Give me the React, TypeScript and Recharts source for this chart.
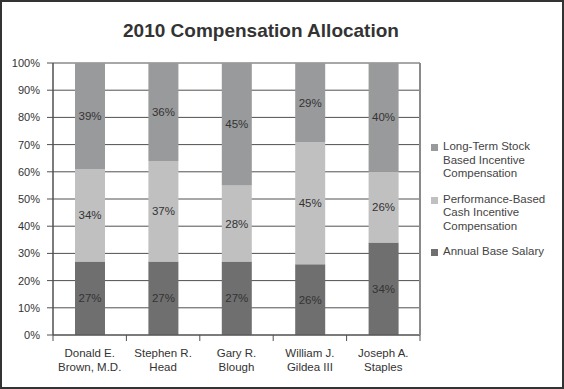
import React from 'react';
import { BarChart, Bar, XAxis, YAxis, CartesianGrid, LabelList } from 'recharts';

const names = [
  ['Donald E.', 'Brown, M.D.'],
  ['Stephen R.', 'Head'],
  ['Gary R.', 'Blough'],
  ['William J.', 'Gildea III'],
  ['Joseph A.', 'Staples'],
];
const baseSalary = [27, 27, 27, 26, 34];
const cashIncentive = [34, 37, 28, 45, 26];
const stockIncentive = [39, 36, 45, 29, 40];
const yTicks = [0, 10, 20, 30, 40, 50, 60, 70, 80, 90, 100];

const data = names.map((n, i) => ({
  name: n.join('\n'),
  base: baseSalary[i],
  cash: cashIncentive[i],
  stock: stockIncentive[i],
}));

const series = [
  { key: 'stock', color: '#999a9c', label: ['Long-Term Stock', 'Based Incentive', 'Compensation'] },
  { key: 'cash', color: '#c0c0c1', label: ['Performance-Based', 'Cash Incentive', 'Compensation'] },
  { key: 'base', color: '#6f6f70', label: ['Annual Base Salary'] },
];

const font = '"Liberation Sans", Arial, sans-serif';

// category label plus tick marks on the band edges
const NameTick = (props: any) => {
  const { x, y, payload, index, width, visibleTicksCount } = props;
  const half = width / visibleTicksCount / 2;
  const lines = String(payload.value).split('\n');
  return (
    <g>
      <line x1={x - half} x2={x - half} y1={y} y2={y + 6} stroke="#505050" />
      {index === visibleTicksCount - 1 && (
        <line x1={x + half} x2={x + half} y1={y} y2={y + 6} stroke="#505050" />
      )}
      <text x={x} y={y} textAnchor="middle" fill="#333" fontSize={11.5} fontFamily={font}>
        {lines.map((l, i) => (
          <tspan key={i} x={x} dy={i === 0 ? 22 : 14}>{l}</tspan>
        ))}
      </text>
    </g>
  );
};

export default function App() {
  return (
    <div style={{ position: 'absolute', left: 0, top: 0, width: 564, height: 389, background: '#fff', fontFamily: font }}>
      <BarChart
        width={564}
        height={389}
        data={data}
        margin={{ top: 63, right: 143, bottom: 14, left: 0 }}
        style={{ position: 'absolute', left: 0, top: 0 }}
      >
        <CartesianGrid vertical={false} stroke="#505050" strokeWidth={1} />
        <XAxis
          dataKey="name"
          tick={<NameTick />}
          tickSize={0}
          tickMargin={0}
          tickLine={false}
          axisLine={{ stroke: '#505050' }}
          height={40}
          interval={0}
        />
        <YAxis
          domain={[0, 100]}
          ticks={yTicks}
          tickFormatter={(v) => v + '%'}
          width={53}
          tickSize={6}
          tickMargin={7}
          tick={{ fill: '#333', fontSize: 11, fontFamily: font }}
          tickLine={{ stroke: '#505050' }}
          axisLine={{ stroke: '#505050', strokeWidth: 1.5 }}
          interval={0}
        />
        <YAxis
          yAxisId="right"
          orientation="right"
          width={1}
          tick={false}
          tickLine={false}
          axisLine={{ stroke: '#8a8a8a', strokeWidth: 2 }}
        />
        {['base', 'cash', 'stock'].map((k) => {
          const s = series.find((x) => x.key === k)!;
          return (
            <Bar key={k} dataKey={k} stackId="a" fill={s.color} barSize={30} isAnimationActive={false}>
              <LabelList
                dataKey={k}
                position="center"
                formatter={(v: any) => v + '%'}
                style={{ fill: '#333', fontSize: 11.5, fontFamily: font }}
              />
            </Bar>
          );
        })}
      </BarChart>
      <div
        style={{
          position: 'absolute',
          left: 0,
          top: 18,
          width: 522,
          textAlign: 'center',
          fontSize: 19,
          fontWeight: 'bold',
          color: '#333',
          lineHeight: '26px',
        }}
      >
        2010 Compensation Allocation
      </div>
      <div style={{ position: 'absolute', left: 431, top: 140, fontSize: 11.5, color: '#444', lineHeight: '13.5px' }}>
        {series.map((s) => (
          <div key={s.key} style={{ display: 'flex', marginBottom: 12 }}>
            <div style={{ width: 7, height: 7, background: s.color, marginTop: 4, marginRight: 5 }} />
            <div>
              {s.label.map((l) => (
                <div key={l}>{l}</div>
              ))}
            </div>
          </div>
        ))}
      </div>
      <div
        style={{
          position: 'absolute',
          left: 0,
          top: 0,
          width: 564,
          height: 389,
          boxSizing: 'border-box',
          border: '2px solid #333',
          pointerEvents: 'none',
        }}
      />
    </div>
  );
}
